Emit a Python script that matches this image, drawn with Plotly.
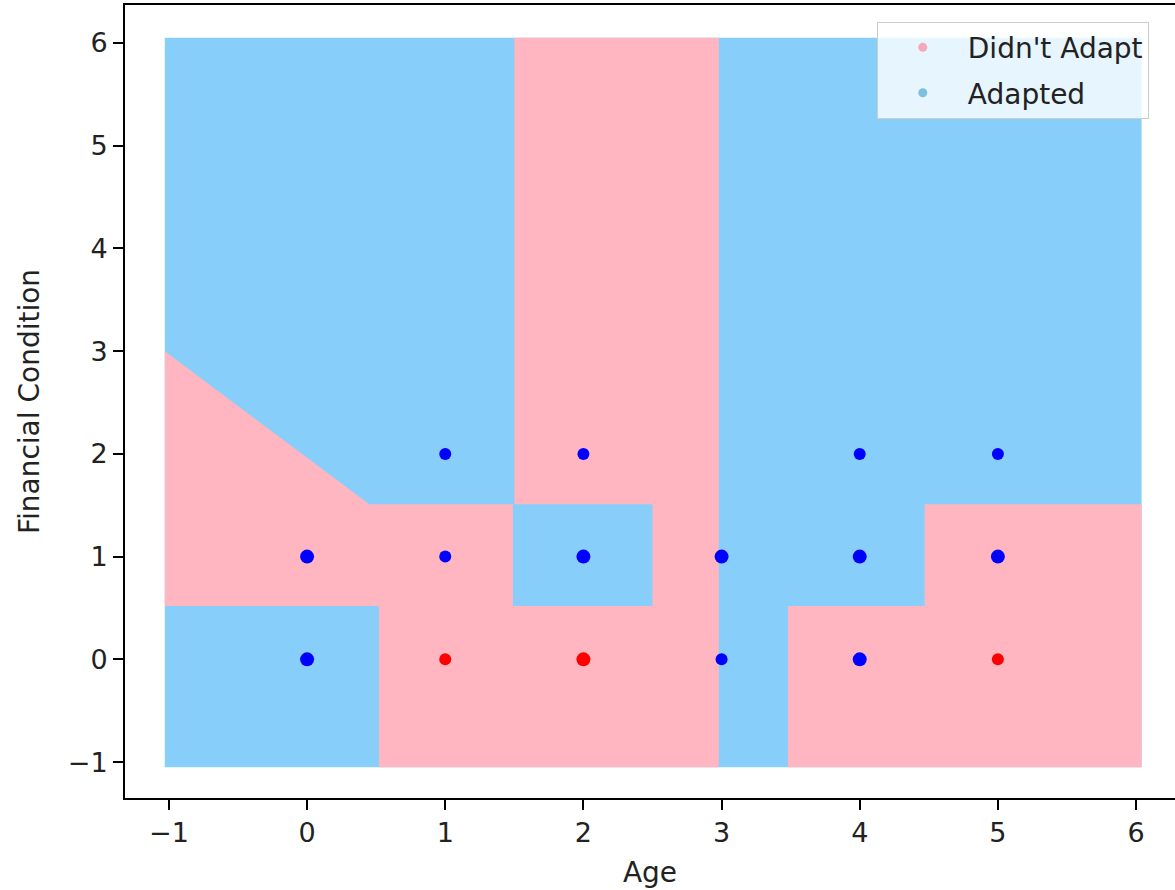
import plotly.graph_objects as go

# ---- Data -------------------------------------------------------------
# training observations (Age, Financial Condition), class and record count
age = [0, 0, 1, 1, 2, 2, 3, 3, 4, 4, 4, 5, 5, 1, 2, 5]
fin = [0, 1, 1, 2, 1, 2, 0, 1, 0, 1, 2, 1, 2, 0, 0, 0]
adapted = [1, 1, 1, 1, 1, 1, 1, 1, 1, 1, 1, 1, 1, 0, 0, 0]
count = [2, 2, 1, 1, 2, 1, 1, 2, 2, 2, 1, 2, 1, 1, 2, 1]

# decision regions (mesh extent and class boundaries)
mesh_x = [-1.03, 6.04]
mesh_y = [-1.05, 6.05]
# "Didn't Adapt" regions
pink_a_x = [-1.03, -1.03, 0.45, 1.5, 1.5, 2.98, 2.98, 0.52, 0.52, -1.03]
pink_a_y = [0.52, 3.0, 1.51, 1.51, 6.05, 6.05, -1.05, -1.05, 0.52, 0.52]
pink_b_x = [3.48, 3.48, 4.47, 4.47, 6.04, 6.04, 3.48]
pink_b_y = [-1.05, 0.52, 0.52, 1.51, 1.51, -1.05, -1.05]
# "Adapted" island inside the pink column
blue_box_x = [1.49, 2.5, 2.5, 1.49, 1.49]
blue_box_y = [0.52, 0.52, 1.51, 1.51, 0.52]

class_names = ["Didn't Adapt", "Adapted"]
ticks = [-1, 0, 1, 2, 3, 4, 5, 6]

# ---- Styles -----------------------------------------------------------
PINK = "#FFB6C1"
SKY = "#87CEFA"
FONT = "DejaVu Sans"

fig = go.Figure()


def region(xs, ys, color):
    fig.add_trace(go.Scatter(x=xs, y=ys, mode="lines", fill="toself",
                             fillcolor=color, line=dict(width=0, color=color),
                             hoverinfo="skip", showlegend=False))


region([mesh_x[0], mesh_x[1], mesh_x[1], mesh_x[0], mesh_x[0]],
       [mesh_y[0], mesh_y[0], mesh_y[1], mesh_y[1], mesh_y[0]], SKY)
region(pink_a_x, pink_a_y, PINK)
region(pink_b_x, pink_b_y, PINK)
region(blue_box_x, blue_box_y, SKY)

# legend entries for the mesh classes
fig.add_trace(go.Scatter(x=[None], y=[None], mode="markers", name=class_names[0],
                         legendgroup="a",
                         marker=dict(color="#F5A9B8", size=9, opacity=1)))
fig.add_trace(go.Scatter(x=[None], y=[None], mode="markers", name=class_names[1],
                         legendgroup="b",
                         marker=dict(color="#7DBFDD", size=9, opacity=1)))

# observations
fig.add_trace(go.Scatter(
    x=age, y=fin, mode="markers", showlegend=False,
    marker=dict(color=["#0000FF" if a == 1 else "#FF0000" for a in adapted],
                size=[12 if c == 1 else 14 for c in count],
                opacity=1, line=dict(width=0)),
))

axis_common = dict(
    showgrid=False, zeroline=False, showline=True, linecolor="black",
    linewidth=2, ticks="outside", ticklen=10, tickwidth=2, tickcolor="black",
    tickfont=dict(family=FONT, size=27, color="#222"),
    tickvals=ticks,
)

fig.update_layout(
    width=1175, height=890,
    margin=dict(l=125, r=0, t=5, b=92),
    paper_bgcolor="white", plot_bgcolor="white",
    font=dict(family=FONT, color="#222"),
    xaxis=dict(range=[-1.318, 6.282], mirror=True,
               title=dict(text="Age", font=dict(family=FONT, size=28), standoff=15),
               **axis_common),
    yaxis=dict(range=[-1.350, 6.370], mirror=False,
               title=dict(text="Financial Condition", font=dict(family=FONT, size=28), standoff=20),
               **axis_common),
    legend=dict(x=0.716, y=0.979, xanchor="left", yanchor="top",
                bgcolor="rgba(255,255,255,0.8)", bordercolor="#cccccc",
                borderwidth=1, font=dict(family=FONT, size=28, color="#222"),
                itemwidth=80, tracegroupgap=6, itemsizing="trace"),
    showlegend=True,
)

fig.write_html("out.html", config={"displayModeBar": False},
               post_script="document.body.style.margin='0';document.body.style.overflow='hidden';")
